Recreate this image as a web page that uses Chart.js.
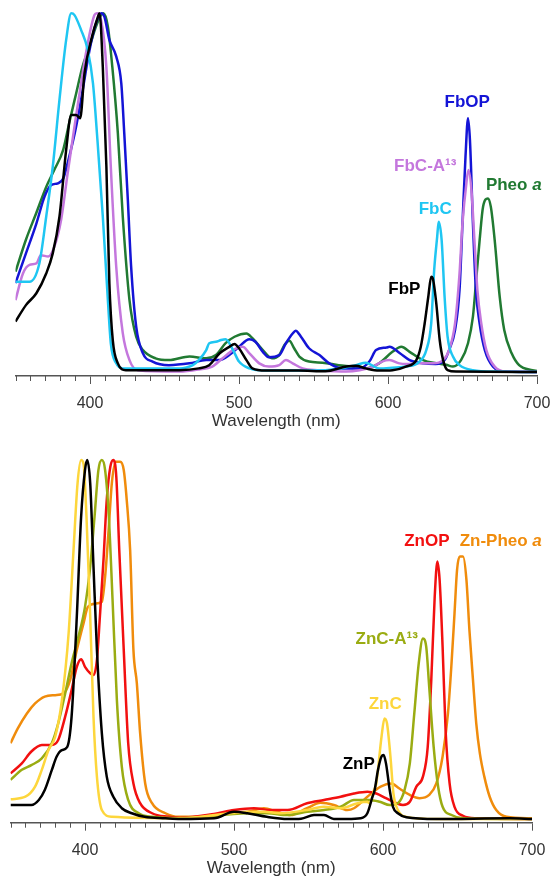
<!DOCTYPE html>
<html>
<head>
<meta charset="utf-8">
<script src="https://cdn.jsdelivr.net/npm/chart.js@4.4.1/dist/chart.umd.min.js"></script>
<style>
  html, body { margin: 0; padding: 0; background: #fff; }
  #wrapTop { position: absolute; left: 0; top: 0; width: 553px; height: 440px; }
  #wrapBot { position: absolute; left: 0; top: 440px; width: 553px; height: 441px; }
</style>
</head>
<body>
<div id="wrapTop"><canvas id="top"></canvas></div>
<div id="wrapBot"><canvas id="bot"></canvas></div>
<script>
// ---------- Top panel: free-base chromophores (normalized absorbance) ----------
const fbpWl  = [350,357,364,370.6,375,379.5,384,387.4,390.7,393.4,396.3,400.8,405.3,406.4,408.6,411,413,415.3,418.7,424,460,473,480,487,493.5,497,500,505,509,518,540,558,572,578.5,585,594,603,612,619,622,624.6,627,629,630,632.4,634.7,637,640,646,700];
const fbpAbs = [.142,.188,.221,.276,.332,.434,.62,.717,.717,.708,.833,.926,.99,1.0,.85,.573,.249,.09,.026,.007,.007,.012,.021,.054,.072,.08,.068,.035,.012,.006,.006,.004,.017,.019,.012,.006,.007,.017,.035,.072,.137,.21,.267,.263,.193,.091,.035,.007,.003,.002];

const fbcWl  = [350,359.4,366,370.6,375,379.5,384,387.4,389.6,394,398.5,402,405,408.6,412,414,417.6,422,460,469,473,478,480,484.5,488,491,496,500,507,518,558,578.5,585,594,603,612,621,625.7,629,631,633,634,636,638,640,643.6,648,657,673,700];
const fbcAbs = [.253,.253,.304,.434,.573,.759,.926,1.0,.995,.954,.898,.805,.647,.434,.202,.08,.026,.012,.012,.021,.035,.063,.082,.086,.091,.093,.063,.031,.012,.006,.007,.021,.028,.012,.014,.017,.03,.063,.137,.286,.378,.42,.369,.21,.1,.045,.021,.007,.003,.002];

const fbcaWl  = [350,355,359.4,364,367,372,376,380.6,385,389.6,394,398.5,403,404.6,407.5,411,414,417.6,422,426.5,432,460,473,482,489,496,502.5,507,513.6,520,527,531.5,536,542.7,554,572,581,590,596,601,607.6,612,621,630,637,641,645,648,650,652.6,654,656,658,660,662.6,666,671.6,679,700];
const fbcaAbs = [.202,.276,.30,.304,.327,.323,.35,.425,.555,.685,.805,.917,.995,1.0,.98,.85,.57,.295,.11,.035,.007,.003,.009,.017,.04,.063,.072,.054,.026,.017,.021,.035,.026,.012,.007,.003,.007,.017,.031,.035,.026,.024,.026,.026,.035,.063,.137,.276,.416,.527,.564,.508,.369,.23,.137,.063,.017,.003,.002];

const fbopWl  = [350,357,364,369.5,374,378.4,382,386,390.7,395,399.7,404,407.5,409.7,413,417.6,421,423,425.4,427.6,431,435.5,442,453,466.8,478,487,493.5,500,507,511,516,520,527,531.5,536,538,541.6,547,554,560.6,569.6,581,587.5,592,599,601,608,614.5,623.5,632,638,641,645,648,650,652,653.7,655,657,659,661.5,665,670.5,679,700];
const fbopAbs = [.249,.332,.415,.49,.522,.527,.54,.6,.685,.784,.898,.972,1.0,.99,.926,.88,.805,.666,.48,.295,.128,.054,.031,.021,.026,.035,.035,.049,.072,.093,.086,.058,.043,.049,.082,.109,.117,.1,.068,.049,.026,.012,.012,.031,.063,.07,.072,.054,.035,.026,.024,.035,.063,.119,.23,.416,.6,.708,.647,.416,.23,.137,.063,.017,.003,.002];

const pheoWl  = [350,357,364,370.6,376,382,386,390.7,395,399.7,404,407.5,409,412,415,418.7,422,426.5,431,435.5,444,453,466.8,478,484.5,491,497,505,509,516,522,527,530.5,533.8,537,540.5,547,556,567,576,585,594,603,609,614.5,623.5,632.4,639,643.6,649,653.7,657,659,661.5,663.8,667,669,671.6,675,678,683,688,697,700];
const pheoAbs = [.281,.37,.445,.517,.564,.62,.694,.777,.852,.907,.963,.995,1.0,.963,.85,.666,.434,.202,.1,.063,.04,.035,.045,.04,.049,.082,.1,.109,.096,.063,.04,.049,.077,.089,.068,.045,.031,.028,.021,.017,.012,.026,.058,.072,.058,.035,.026,.022,.017,.035,.082,.156,.249,.369,.462,.485,.462,.369,.21,.119,.054,.021,.007,.005];

// ---------- Bottom panel: zinc chromophores ----------
const znpWl  = [350,364,369,373,377.7,381,384.5,388,391,394.5,397.4,400,401.5,403.5,405.7,408,411.3,414.6,419,424.7,431.4,440,454,464,486.6,500,509,522,536,545,553.7,560.4,567,576,585,589.5,592.8,594.4,596.6,599,600.4,602,604.5,606.7,610,615.7,636,685,700];
const znpAbs = [.039,.039,.053,.081,.136,.174,.192,.2,.285,.564,.842,.972,1.0,.935,.703,.471,.239,.118,.062,.03,.016,.006,.002,0,.002,.02,.016,.006,0,.001,.011,.011,0,0,.002,.016,.06,.081,.136,.174,.178,.155,.081,.034,.016,.005,0,.002,0];

const zncWl  = [350,360,366.5,371,375.5,380,384.5,389,392.3,395,397.4,399,401,403.5,405.7,408,411.3,418,464,498,520,531,549,560.4,571.6,583,589.5,591,594,595.5,599,601,602.7,605,607,610,615.7,636,700];
const zncAbs = [.055,.062,.09,.137,.192,.229,.331,.517,.749,.935,1.0,.99,.842,.564,.285,.118,.025,.006,.002,.016,.02,.016,.025,.034,.03,.044,.048,.044,.081,.099,.229,.28,.266,.174,.071,.025,.006,0,0];

const zncaWl  = [350,357.6,364,371,377.7,382,386.7,391,395.6,400,403.5,406.4,409,411.3,413.5,416,418.5,421.4,424.7,429,436,445,464,509,522,536,549,560.4,571.6,580.5,587,591,597.8,604.5,610,614.5,618,621,624,626.8,629,631,634,637,640,646,653.7,700];
const zncaAbs = [.109,.137,.15,.169,.211,.266,.35,.434,.508,.591,.703,.842,.972,1.0,.972,.842,.61,.331,.146,.053,.016,.006,.002,.016,.016,.011,.02,.025,.034,.053,.053,.053,.048,.039,.044,.081,.155,.294,.434,.503,.48,.369,.201,.09,.034,.011,.002,0];

const znopWl  = [350,357.6,364,371,377.7,382,386.7,391,394.5,397.4,400,403.5,405.7,408,410,412.4,414.6,417,419,421,423,426,429,432.5,437,445,456,464,486.6,500,513.4,524.6,536,549,560.4,571.6,580.5,589.5,595.5,602,609,613.4,618,622.4,626.8,630,632.4,634.7,636.5,638,640,642,644.7,648,653.7,662.6,700];
const znopAbs = [.127,.155,.188,.206,.206,.22,.285,.359,.424,.445,.424,.406,.401,.443,.564,.721,.889,.981,1.0,.954,.749,.471,.211,.099,.044,.016,.006,.003,.014,.025,.03,.025,.025,.044,.053,.062,.071,.076,.071,.058,.044,.039,.048,.09,.118,.2,.387,.619,.717,.666,.48,.248,.099,.034,.009,.002,0];

const znpheoWl  = [350,355,361,366.5,373,380,385.6,390,394.5,399,402,407,411.3,413.5,416,418,420.7,423.6,426,428,430.3,432.5,434.8,437,440.4,445,454,462.8,486.6,498,509,520,529,538,549,558,567,576,580.5,589.5,598.4,605.6,611,618,624.6,631,635.8,640,643.6,646,648,649.7,651.5,653.7,656,658,660.4,662.6,665,668,671.6,676,683,700];
const znpheoAbs = [.211,.253,.294,.322,.341,.345,.35,.387,.471,.545,.591,.6,.605,.675,.814,.935,.995,.995,.972,.889,.749,.471,.378,.239,.099,.044,.016,.006,.008,.018,.02,.03,.02,.011,.03,.045,.039,.025,.03,.062,.09,.099,.085,.067,.058,.067,.099,.174,.294,.434,.573,.694,.731,.731,.666,.526,.387,.266,.183,.118,.062,.025,.006,.002];

// ---------- Series names, colours, in-plot label anchors (data units) ----------
const topNames  = ['FbP','FbC','FbC-A\u00B9\u00B3','FbOP','Pheo a'];
const topColors = ['#000000','#1fc6f2','#c477dd','#1414d6','#217a32'];
const topLabelWl  = [611, 631.7, 625, 653.2, 684.4];
const topLabelAbs = [.233, .456, .575, .753, .522];

const botNames  = ['ZnP','ZnC','ZnC-A\u00B9\u00B3','ZnOP','Zn-Pheo a'];
const botColors = ['#000000','#fdd63c','#9aac12','#f21010','#f08c0c'];
const botLabelWl  = [583.7, 601.5, 602.5, 629.4, 679];
const botLabelAbs = [.153, .32, .501, .773, .773];

const xMin = 350, xMax = 700;
const majorTicks = [400, 500, 600, 700];

function pairs(wl, ab) { return wl.map((w, i) => ({ x: w, y: ab[i] })); }

Chart.defaults.font.family = "'Liberation Sans', Arial, Helvetica, sans-serif";

const minorTickPlugin = {
  id: 'minorTicks',
  afterDraw(chart) {
    const xs = chart.scales.x, ctx = chart.ctx;
    const y0 = chart.chartArea.bottom;
    ctx.save();
    ctx.strokeStyle = '#555';
    ctx.lineWidth = 1;
    for (let w = xMin; w <= xMax; w += 10) {
      if (w % 100 === 0) continue;
      const px = Math.round(xs.getPixelForValue(w)) + 0.5;
      ctx.beginPath();
      ctx.moveTo(px, y0);
      ctx.lineTo(px, y0 + 5);
      ctx.stroke();
    }
    ctx.restore();
  }
};

const labelPlugin = {
  id: 'seriesLabels',
  afterDatasetsDraw(chart, args, opts) {
    const ctx = chart.ctx, xs = chart.scales.x, ys = chart.scales.y;
    ctx.save();
    ctx.textBaseline = 'middle';
    opts.names.forEach((name, i) => {
      const cx = xs.getPixelForValue(opts.wl[i]);
      const cy = ys.getPixelForValue(opts.ab[i]);
      ctx.fillStyle = opts.colors[i];
      let parts;
      if (/ a$/.test(name)) parts = [[name.slice(0, -1), false], ['a', true]];
      else parts = [[name, false]];
      const fonts = parts.map(p => (p[1] ? 'italic ' : '') + "bold 17px 'Liberation Sans', Arial, sans-serif");
      let total = 0;
      const widths = parts.map((p, k) => { ctx.font = fonts[k]; const w = ctx.measureText(p[0]).width; total += w; return w; });
      let x = cx - total / 2;
      ctx.textAlign = 'left';
      parts.forEach((p, k) => { ctx.font = fonts[k]; ctx.fillText(p[0], x, cy); x += widths[k]; });
    });
    ctx.restore();
  }
};

function makePanel(canvasId, wls, abs, names, colors, labWl, labAb, pad, yMin, yMax) {
  const datasets = wls.map((wl, i) => ({
    label: names[i],
    data: pairs(wl, abs[i]),
    borderColor: colors[i],
    backgroundColor: colors[i],
    borderWidth: 2.5,
    pointRadius: 0,
    fill: false,
    cubicInterpolationMode: 'monotone'
  }));
  return new Chart(document.getElementById(canvasId), {
    type: 'line',
    data: { datasets },
    plugins: [minorTickPlugin, labelPlugin],
    options: {
      responsive: true,
      maintainAspectRatio: false,
      animation: false,
      parsing: false,
      layout: { padding: pad },
      plugins: {
        legend: { display: false },
        tooltip: { enabled: false },
        seriesLabels: { names, colors, wl: labWl, ab: labAb }
      },
      scales: {
        x: {
          type: 'linear',
          min: xMin, max: xMax,
          afterBuildTicks(scale) { scale.ticks = majorTicks.map(v => ({ value: v })); },
          afterFit(scale) { scale.paddingLeft = 0; scale.paddingRight = 0; },
          ticks: {
            color: '#333',
            font: { size: 16, lineHeight: 1 },
            padding: 12,
            maxRotation: 0,
            autoSkip: false
          },
          grid: {
            display: true,
            drawOnChartArea: false,
            drawTicks: true,
            tickLength: 8,
            tickColor: '#555',
            tickWidth: 1
          },
          border: { display: true, color: '#555', width: 1.5 },
          title: {
            display: true,
            text: 'Wavelength (nm)',
            color: '#333',
            font: { size: 17, lineHeight: 1.2 },
            padding: { top: -13, bottom: 0 }
          }
        },
        y: { type: 'linear', display: false, min: yMin, max: yMax }
      }
    }
  });
}

makePanel('top',
  [fbpWl, fbcWl, fbcaWl, fbopWl, pheoWl],
  [fbpAbs, fbcAbs, fbcaAbs, fbopAbs, pheoAbs],
  topNames, topColors, topLabelWl, topLabelAbs,
  { left: 15.5, right: 16, top: 10, bottom: 8.6 }, -0.0092, 1.0092);

makePanel('bot',
  [znpWl, zncWl, zncaWl, znopWl, znpheoWl],
  [znpAbs, zncAbs, zncaAbs, znopAbs, znpheoAbs],
  botNames, botColors, botLabelWl, botLabelAbs,
  { left: 10.5, right: 21, top: 10, bottom: 2.9 }, -0.0103, 1.0279);
</script>
</body>
</html>
